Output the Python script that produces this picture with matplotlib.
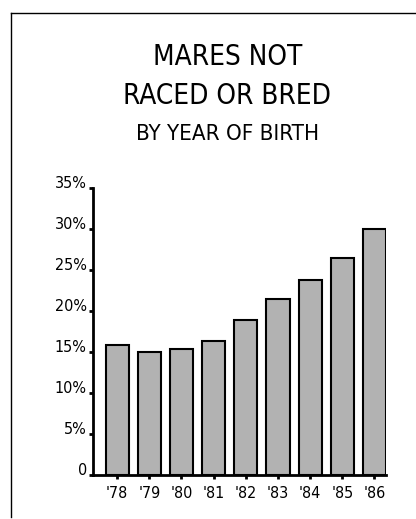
import matplotlib
matplotlib.use("Agg")
import matplotlib.pyplot as plt
from matplotlib.lines import Line2D

years = ["'78", "'79", "'80", "'81", "'82", "'83", "'84", "'85", "'86"]
pct_not_raced = [15.9, 15.0, 15.4, 16.3, 18.9, 21.5, 23.8, 26.5, 30.0]
y_ticks = [0, 5, 10, 15, 20, 25, 30, 35]
y_labels = ["0", "5%", "10%", "15%", "20%", "25%", "30%", "35%"]

# condensed sans, closest to the original's narrow Helvetica
plt.rcParams["font.family"] = ["DejaVu Sans"]
plt.rcParams["font.stretch"] = "condensed"

fig = plt.figure(figsize=(4.16, 5.19), dpi=100)
ax = fig.add_axes([0.2236, 0.0848, 0.7044, 0.553])

x = range(len(years))
ax.bar(x, pct_not_raced, width=0.72, color="#b2b2b2", edgecolor="black", linewidth=1.5)

ax.set_xlim(-0.75, 8.36)
ax.set_ylim(0, 35)
ax.set_yticks(y_ticks)
ax.set_yticklabels(y_labels, va="baseline")
ax.set_xticks(list(x))
ax.set_xticklabels(years)

for s in ["top", "right"]:
    ax.spines[s].set_visible(False)
for s in ["left", "bottom"]:
    ax.spines[s].set_linewidth(2)
ax.tick_params(axis="both", direction="out", length=3, width=2, labelsize=11.5)
ax.tick_params(axis="y", pad=1.5)
ax.tick_params(axis="x", pad=5)

# titles
fig.text(0.546, 1 - 65 / 519, "MARES NOT", ha="center", va="baseline", fontsize=20)
fig.text(0.546, 1 - 103.5 / 519, "RACED OR BRED", ha="center", va="baseline", fontsize=20)
fig.text(0.546, 1 - 140 / 519, "BY YEAR OF BIRTH", ha="center", va="baseline", fontsize=16)

# border (left and top)
fig.add_artist(Line2D([10.5 / 416, 10.5 / 416], [1 - 517 / 519, 1 - 13 / 519],
                      transform=fig.transFigure, color="black", lw=1))
fig.add_artist(Line2D([10.5 / 416, 1.0], [1 - 13 / 519, 1 - 13 / 519],
                      transform=fig.transFigure, color="black", lw=1))

fig.savefig("out.png", dpi=100)
